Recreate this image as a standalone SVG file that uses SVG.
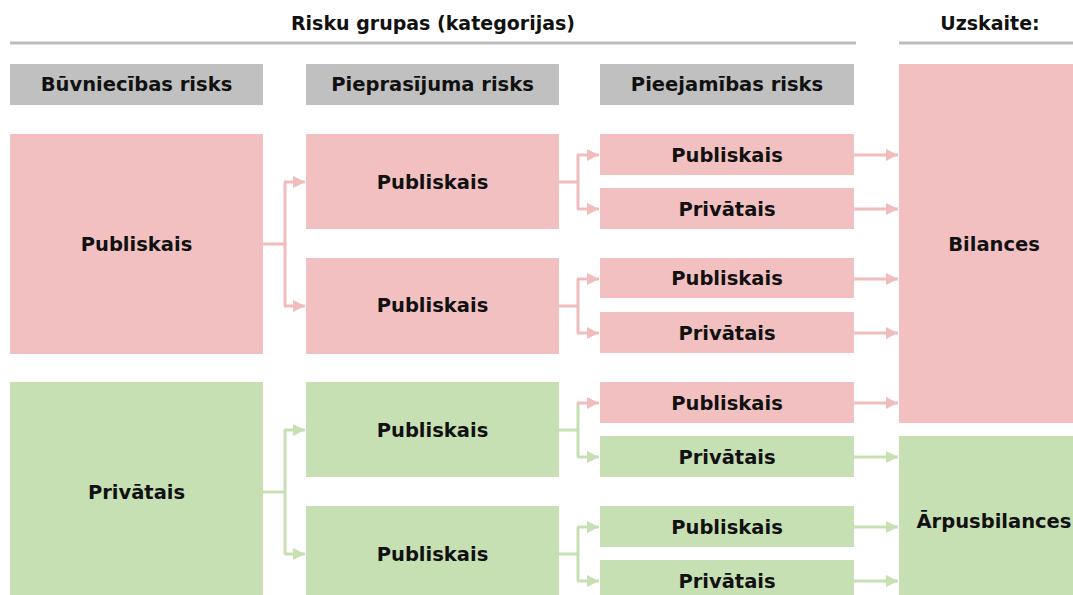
<svg xmlns="http://www.w3.org/2000/svg" width="1073" height="595" viewBox="0 0 1073 595">
<defs>
<style>
text{font-family:"DejaVu Sans","Liberation Sans",sans-serif;font-weight:bold;font-size:19.5px;fill:#111;text-anchor:middle}
.hdr{fill:#c0c0c0}
.pk{fill:#f2c0c0}
.gr{fill:#c6e0b4}
.rule{stroke:#bdbdbd;stroke-width:3;fill:none}
.cp{stroke:#f0bcbc;stroke-width:3;fill:none}
.cg{stroke:#c6e0b4;stroke-width:3;fill:none}
</style>
<marker id="ap" viewBox="0 0 10 10" refX="10" refY="5" markerWidth="12" markerHeight="13" markerUnits="userSpaceOnUse" orient="auto"><path d="M0,0 L10,5 L0,10 Z" fill="#f0bcbc"/></marker>
<marker id="ag" viewBox="0 0 10 10" refX="10" refY="5" markerWidth="12" markerHeight="13" markerUnits="userSpaceOnUse" orient="auto"><path d="M0,0 L10,5 L0,10 Z" fill="#c6e0b4"/></marker>
</defs>
<rect width="1073" height="595" fill="#fff"/>
<g id="titles">
<text x="433" y="30" style="font-size:19px">Risku grupas (kategorijas)</text>
<line class="rule" x1="10" y1="43" x2="856" y2="43"/>
<text x="990" y="30" style="font-size:19px">Uzskaite:</text>
<line class="rule" x1="899" y1="43" x2="1073" y2="43"/>
</g>
<g id="h1"><rect class="hdr" x="10" y="64" width="253" height="41"/><text x="136.5" y="91">Būvniecības risks</text></g>
<g id="h2"><rect class="hdr" x="306" y="64" width="253" height="41"/><text x="432.5" y="91">Pieprasījuma risks</text></g>
<g id="h3"><rect class="hdr" x="600" y="64" width="254" height="41"/><text x="727" y="91">Pieejamības risks</text></g>
<g id="c1a"><rect class="pk" x="10" y="134" width="253" height="220"/><text x="136.5" y="251">Publiskais</text></g>
<g id="c1b"><rect class="gr" x="10" y="382" width="253" height="220"/><text x="136.5" y="499">Privātais</text></g>
<g id="c2a"><rect class="pk" x="306" y="134" width="253" height="95"/><text x="432.5" y="189">Publiskais</text></g>
<g id="c2b"><rect class="pk" x="306" y="258" width="253" height="96"/><text x="432.5" y="312">Publiskais</text></g>
<g id="c2c"><rect class="gr" x="306" y="382" width="253" height="95"/><text x="432.5" y="437">Publiskais</text></g>
<g id="c2d"><rect class="gr" x="306" y="506" width="253" height="96"/><text x="432.5" y="561">Publiskais</text></g>
<g id="c3a"><rect class="pk" x="600" y="134" width="254" height="41"/><text x="727" y="162">Publiskais</text></g>
<g id="c3b"><rect class="pk" x="600" y="188" width="254" height="41"/><text x="727" y="216">Privātais</text></g>
<g id="c3c"><rect class="pk" x="600" y="258" width="254" height="40"/><text x="727" y="285">Publiskais</text></g>
<g id="c3d"><rect class="pk" x="600" y="312" width="254" height="41"/><text x="727" y="340">Privātais</text></g>
<g id="c3e"><rect class="pk" x="600" y="382" width="254" height="41"/><text x="727" y="410">Publiskais</text></g>
<g id="c3f"><rect class="gr" x="600" y="436" width="254" height="41"/><text x="727" y="464">Privātais</text></g>
<g id="c3g"><rect class="gr" x="600" y="506" width="254" height="41"/><text x="727" y="534">Publiskais</text></g>
<g id="c3h"><rect class="gr" x="600" y="560" width="254" height="41"/><text x="727" y="588">Privātais</text></g>
<g id="bil"><rect class="pk" x="899" y="64" width="180" height="359"/><text x="994" y="251">Bilances</text></g>
<g id="arp"><rect class="gr" x="899" y="436" width="180" height="166"/><text x="994" y="528">Ārpusbilances</text></g>
<g id="connectors">
<path class="cp" d="M263,244 H285 M285,182 V306"/>
<path class="cp" d="M284,182 H305" marker-end="url(#ap)"/>
<path class="cp" d="M284,306 H305" marker-end="url(#ap)"/>
<path class="cg" d="M263,492 H285 M285,430 V554"/>
<path class="cg" d="M284,430 H305" marker-end="url(#ag)"/>
<path class="cg" d="M284,554 H305" marker-end="url(#ag)"/>
<path class="cp" d="M559,182 H578 M578,155 V209"/>
<path class="cp" d="M577,155 H599" marker-end="url(#ap)"/>
<path class="cp" d="M577,209 H599" marker-end="url(#ap)"/>
<path class="cp" d="M559,306 H578 M578,279 V333"/>
<path class="cp" d="M577,279 H599" marker-end="url(#ap)"/>
<path class="cp" d="M577,333 H599" marker-end="url(#ap)"/>
<path class="cg" d="M559,430 H578 M578,403 V457"/>
<path class="cp" d="M577,403 H599" marker-end="url(#ap)"/>
<path class="cg" d="M577,457 H599" marker-end="url(#ag)"/>
<path class="cg" d="M559,554 H578 M578,527 V581"/>
<path class="cg" d="M577,527 H599" marker-end="url(#ag)"/>
<path class="cg" d="M577,581 H599" marker-end="url(#ag)"/>
<path class="cp" d="M854,155 H898" marker-end="url(#ap)"/>
<path class="cp" d="M854,209 H898" marker-end="url(#ap)"/>
<path class="cp" d="M854,279 H898" marker-end="url(#ap)"/>
<path class="cp" d="M854,333 H898" marker-end="url(#ap)"/>
<path class="cp" d="M854,403 H898" marker-end="url(#ap)"/>
<path class="cg" d="M854,457 H898" marker-end="url(#ag)"/>
<path class="cg" d="M854,527 H898" marker-end="url(#ag)"/>
<path class="cg" d="M854,581 H898" marker-end="url(#ag)"/>
</g>
</svg>
